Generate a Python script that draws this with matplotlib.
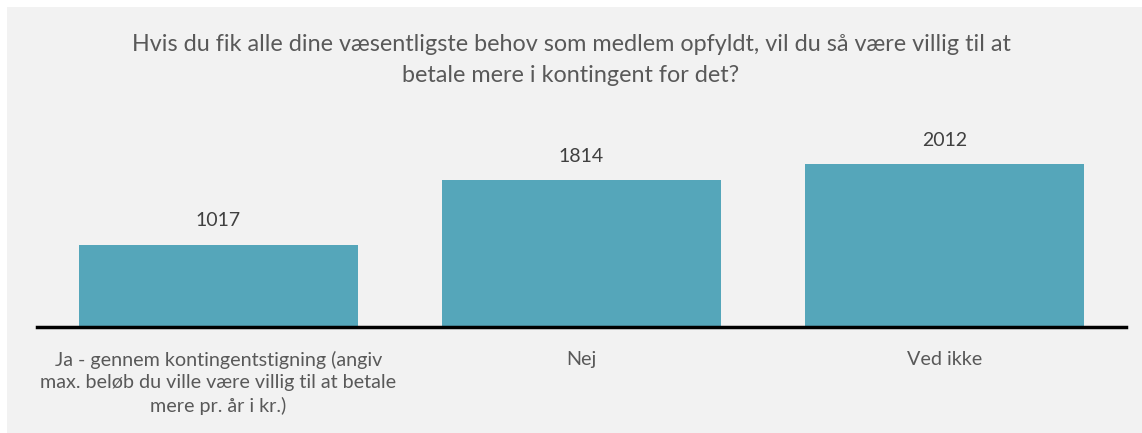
import matplotlib.pyplot as plt
from matplotlib.patches import Rectangle

plt.rcParams['font.family'] = ['Lato', 'DejaVu Sans']

categories = ["Ja - gennem kontingentstigning (angiv\nmax. beløb du ville være villig til at betale\nmere pr. år i kr.)",
              "Nej", "Ved ikke"]
counts = [1017, 1814, 2012]
title = "Hvis du fik alle dine væsentligste behov som medlem opfyldt, vil du så være villig til at\nbetale mere i kontingent for det?"

W, H = 1142, 433
fig = plt.figure(figsize=(W / 100, H / 100), dpi=100, facecolor='white')

# gray chart area behind everything
fig.patches.append(Rectangle((7 / W, 0), 1 - 7 / W, 1 - 7 / H, transform=fig.transFigure,
                             facecolor='#f2f2f2', edgecolor='none', zorder=-10))

ax = fig.add_axes([37 / W, (H - 327) / H, 1089 / W, 217 / H])
ax.set_facecolor('none')
x = range(len(categories))
bars = ax.bar(x, counts, width=0.766, color='#55a6ba', zorder=2)
ax.set_xlim(-0.5, len(categories) - 0.5)
ax.set_ylim(0, 2680)

for b, v in zip(bars, counts):
    ax.text(b.get_x() + b.get_width() / 2, v + 190, str(v), ha='center', va='bottom',
            fontsize=14, color='#404040')

for s in ['top', 'right', 'left']:
    ax.spines[s].set_visible(False)
ax.spines['bottom'].set_linewidth(2.5)
ax.spines['bottom'].set_color('black')
ax.set_yticks([])
ax.set_xticks(list(x))
ax.set_xticklabels(categories, fontsize=14.2, color='#595959', linespacing=1.38)
ax.tick_params(axis='x', length=0, pad=17)

fig.text(0.5, (H - 60) / H, title, ha='center', va='center', fontsize=16.8,
         color='#595959', linespacing=1.57)

fig.savefig('out.png', dpi=100)
